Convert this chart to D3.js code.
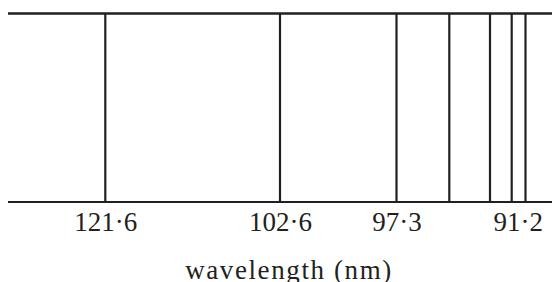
<!DOCTYPE html>
<html>
<head>
<meta charset="utf-8">
<script src="https://cdn.jsdelivr.net/npm/d3@7"></script>
<style>
  body { margin: 0; background: #fff; }
  svg { display: block; }
  .tick text { font-family: "Liberation Serif", "Times New Roman", serif; }
</style>
</head>
<body>
<div class="chart"></div>
<script>
const FRAME_WIDTH = 552;
const FRAME_HEIGHT = 282;
const INK = "#231f20";

// Lyman series lines (nm), n = 2..7 and the series limit
const WAVELENGTHS = [121.6, 102.6, 97.3, 95.0, 93.8, 93.1, 91.2];
const TICK_VALUES = [121.6, 102.6, 97.3, 91.2];
const TICK_LABELS = ["121·6", "102·6", "97·3", "91·2"];
const AXIS_TITLE = "wavelength (nm)";

const BAND = {left: 8, right: 552, top: 13.5, bottom: 202};

const FRAME = d3.select(".chart")
                .append("svg")
                .attr("width", FRAME_WIDTH)
                .attr("height", FRAME_HEIGHT);

// schematic (non-uniform) spacing of the spectrum, as drawn
const X_SCALE = d3.scaleLinear()
                  .domain(WAVELENGTHS)
                  .range([105.3, 280, 396.5, 449.3, 490, 511.7, 525.5]);

// top and bottom edges of the band
FRAME.selectAll(".edge")
     .data([{y: BAND.top, w: 2.5}, {y: BAND.bottom, w: 2}])
     .enter()
     .append("line")
        .attr("class", "edge")
        .attr("x1", BAND.left)
        .attr("x2", BAND.right)
        .attr("y1", d => d.y)
        .attr("y2", d => d.y)
        .attr("stroke", INK)
        .attr("stroke-width", d => d.w);

// spectral lines
FRAME.selectAll(".spec-line")
     .data(WAVELENGTHS)
     .enter()
     .append("line")
        .attr("class", "spec-line")
        .attr("x1", d => X_SCALE(d))
        .attr("x2", d => X_SCALE(d))
        .attr("y1", BAND.top)
        .attr("y2", BAND.bottom)
        .attr("stroke", INK)
        .attr("stroke-width", 2.2);

const AXIS = FRAME.append("g")
    .attr("transform", "translate(0," + BAND.bottom + ")")
    .call(d3.axisBottom(X_SCALE)
            .tickValues(TICK_VALUES)
            .tickFormat((d, i) => TICK_LABELS[i])
            .tickSize(0)
            .tickPadding(29));

AXIS.select(".domain").remove();
AXIS.selectAll("text")
    .attr("font-size", "27px")
    .attr("fill", INK)
    .attr("dy", null);

// keep the last label inside the frame
AXIS.selectAll(".tick text").each(function() {
    const box = this.getBBox();
    const tx = +this.parentNode.getAttribute("transform").match(/translate\(([^,]+)/)[1];
    const over = tx + box.x + box.width - (FRAME_WIDTH - 9);
    if (over > 0) d3.select(this).attr("x", -over);
});

FRAME.append("text")
     .attr("x", 289)
     .attr("y", 279)
     .attr("text-anchor", "middle")
     .attr("font-family", "'Liberation Serif', 'Times New Roman', serif")
     .attr("font-size", "27px")
     .attr("letter-spacing", "1.6px")
     .attr("fill", INK)
     .text(AXIS_TITLE);
</script>
</body>
</html>
